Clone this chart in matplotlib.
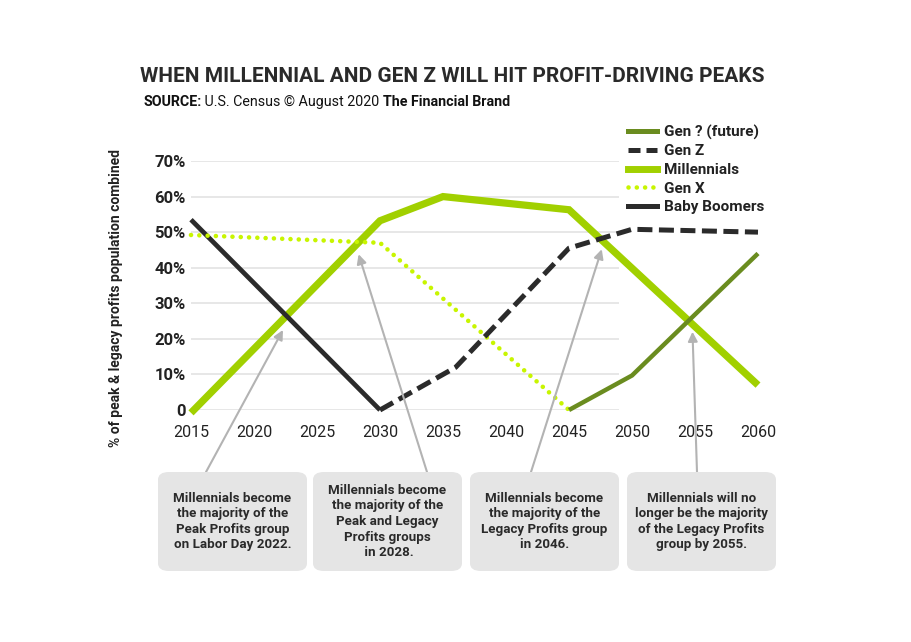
import matplotlib
matplotlib.use("Agg")
import matplotlib.pyplot as plt
from matplotlib.patches import FancyBboxPatch
from matplotlib.lines import Line2D

plt.rcParams['font.family'] = ['Roboto', 'DejaVu Sans']

# ---------------- data ----------------
years_boomers = [2015, 2030]
vals_boomers = [53.5, 0]

years_genx = [2015, 2030, 2045]
vals_genx = [49.2, 47, 0]

years_millennials = [2015, 2030, 2035, 2045, 2060]
vals_millennials = [-0.8, 53.2, 60, 56.3, 7]

years_genz = [2030, 2036, 2045, 2050, 2060]
vals_genz = [0, 12, 45.5, 50.8, 50]

years_genq = [2045, 2050, 2060]
vals_genq = [0, 9.7, 44]

x_ticks = [2015, 2020, 2025, 2030, 2035, 2040, 2045, 2050, 2055, 2060]
y_ticks = [0, 10, 20, 30, 40, 50, 60, 70]
y_tick_labels = ["0", "10%", "20%", "30%", "40%", "50%", "60%", "70%"]

note_texts = [
    "Millennials become\nthe majority of the\nPeak Profits group\non Labor Day 2022.",
    "Millennials become\nthe majority of the\nPeak and Legacy\nProfits groups\n in 2028.",
    "Millennials become\nthe majority of the\nLegacy Profits group\nin 2046.",
    "Millennials will no\nlonger be the majority\nof the Legacy Profits\ngroup by 2055.",
]
# arrow targets (year, value)
note_targets = [(2022.3, 22.5), (2028.3, 43.8), (2047.6, 45.2), (2054.8, 22.0)]

title = "WHEN MILLENNIAL AND GEN Z WILL HIT PROFIT-DRIVING PEAKS"
ylabel = "% of peak & legacy profits population combined"

# ---------------- colours ----------------
C_DARK = "#2b2b2b"
C_MILL = "#a1d000"
C_GENX = "#c8f500"
C_GENQ = "#6a8c1f"
C_GRID = "#e3e3e3"
C_BOX = "#e5e5e5"
C_ARROW = "#b3b3b3"

W, H = 911, 642
fig = plt.figure(figsize=(W / 100, H / 100), dpi=100)

def fx(px):
    return px / W

def fy(py):
    return 1 - py / H

# axes: 2015 -> x=191px, 2060 -> x=758px ; 0 -> y=410px, 70 -> y=161px
ax = fig.add_axes([fx(191), fy(410), (758 - 191) / W, (410 - 161) / H])
ax.set_xlim(2015, 2060)
ax.set_ylim(0, 70)
for s in ax.spines.values():
    s.set_visible(False)

ax.hlines(y_ticks, 2015, 2049, color=C_GRID, lw=1.2, zorder=0)

ax.set_xticks(x_ticks)
ax.set_xticklabels([str(x) for x in x_ticks], fontsize=11.5, color="#222222")
ax.set_yticks(y_ticks)
ax.set_yticklabels(y_tick_labels, fontsize=12, fontweight="bold", color="#222222")
ax.tick_params(axis="both", length=0)
ax.tick_params(axis="x", pad=11)
ax.tick_params(axis="y", pad=4)

# lines
l_mill, = ax.plot(years_millennials, vals_millennials, color=C_MILL, lw=5.2,
                  solid_joinstyle="miter", solid_capstyle="butt", clip_on=False, zorder=3)
l_boom, = ax.plot(years_boomers, vals_boomers, color=C_DARK, lw=3.4,
                  solid_capstyle="butt", clip_on=False, zorder=4)
l_genx, = ax.plot(years_genx, vals_genx, color=C_GENX, lw=3.3,
                  linestyle=(0, (0.01, 1.8)), dash_capstyle="round", clip_on=False, zorder=4)
l_genz, = ax.plot(years_genz, vals_genz, color=C_DARK, lw=3.6,
                  linestyle=(0, (3.0, 1.3)), dash_capstyle="butt", clip_on=False, zorder=4)
l_genq, = ax.plot(years_genq, vals_genq, color=C_GENQ, lw=3.2,
                  solid_capstyle="butt", clip_on=False, zorder=5)

# legend
handles = [
    Line2D([], [], color=C_GENQ, lw=3.6),
    Line2D([], [], color=C_DARK, lw=3.6, linestyle=(0, (2.4, 1.2))),
    Line2D([], [], color=C_MILL, lw=5.0),
    Line2D([], [], color=C_GENX, lw=3.3, linestyle=(0, (0.01, 1.8)), dash_capstyle="round"),
    Line2D([], [], color=C_DARK, lw=3.6),
]
labels = ["Gen ? (future)", "Gen Z", "Millennials", "Gen X", "Baby Boomers"]
leg = fig.legend(handles, labels, loc="upper left", bbox_to_anchor=(fx(614), fy(111)),
                 frameon=False, handlelength=1.9, handletextpad=0.5, labelspacing=0.3,
                 prop={"family": ["Roboto", "DejaVu Sans"], "weight": "bold", "size": 11})
for t in leg.get_texts():
    t.set_color("#222222")

# title and source
fig.text(fx(140), fy(76), title, fontsize=15, fontweight="bold", color="#2a2a2a",
         ha="left", va="center")

fig.canvas.draw()
renderer = fig.canvas.get_renderer()
x_cur = fx(143)
parts = [("SOURCE:", "bold"), (" U.S. Census \u00a9 August 2020 ", "normal"), ("The Financial Brand", "bold")]
for txt, wt in parts:
    t = fig.text(x_cur, fy(102), txt, fontsize=10.3, fontweight=wt, color="#111111",
                 ha="left", va="center")
    bb = t.get_window_extent(renderer=renderer)
    x_cur = bb.x1 / W

# y label
fig.text(fx(116), fy(298), ylabel, rotation=90, fontsize=10, fontweight="bold",
         color="#222222", ha="center", va="center")

# note boxes
box_x = [158, 313, 470, 627]
box_w = 149
box_top = 472
box_bot = 571
for i, (bx, txt) in enumerate(zip(box_x, note_texts)):
    patch = FancyBboxPatch((fx(bx), fy(box_bot)), box_w / W, (box_bot - box_top) / H,
                           boxstyle="round,pad=0,rounding_size=0.012",
                           transform=fig.transFigure, facecolor=C_BOX, edgecolor="none",
                           zorder=1)
    fig.add_artist(patch)
    fig.text(fx(bx + box_w / 2), fy((box_top + box_bot) / 2), txt, ha="center", va="center",
             fontsize=9.6, fontweight="bold", color="#2a2a2a", linespacing=1.26, zorder=2)

# arrows from boxes to targets
arrow_tails = [(206, 472), (427, 472), (531, 472), (697, 472)]
for (tx, ty), tgt in zip(arrow_tails, note_targets):
    ax.annotate("", xy=tgt, xycoords="data", xytext=(tx, H - ty), textcoords="figure pixels",
                arrowprops=dict(arrowstyle="-|>", color=C_ARROW, lw=1.5,
                                mutation_scale=14, shrinkA=0, shrinkB=0),
                annotation_clip=False, zorder=6)

fig.savefig("out.png", dpi=100)
